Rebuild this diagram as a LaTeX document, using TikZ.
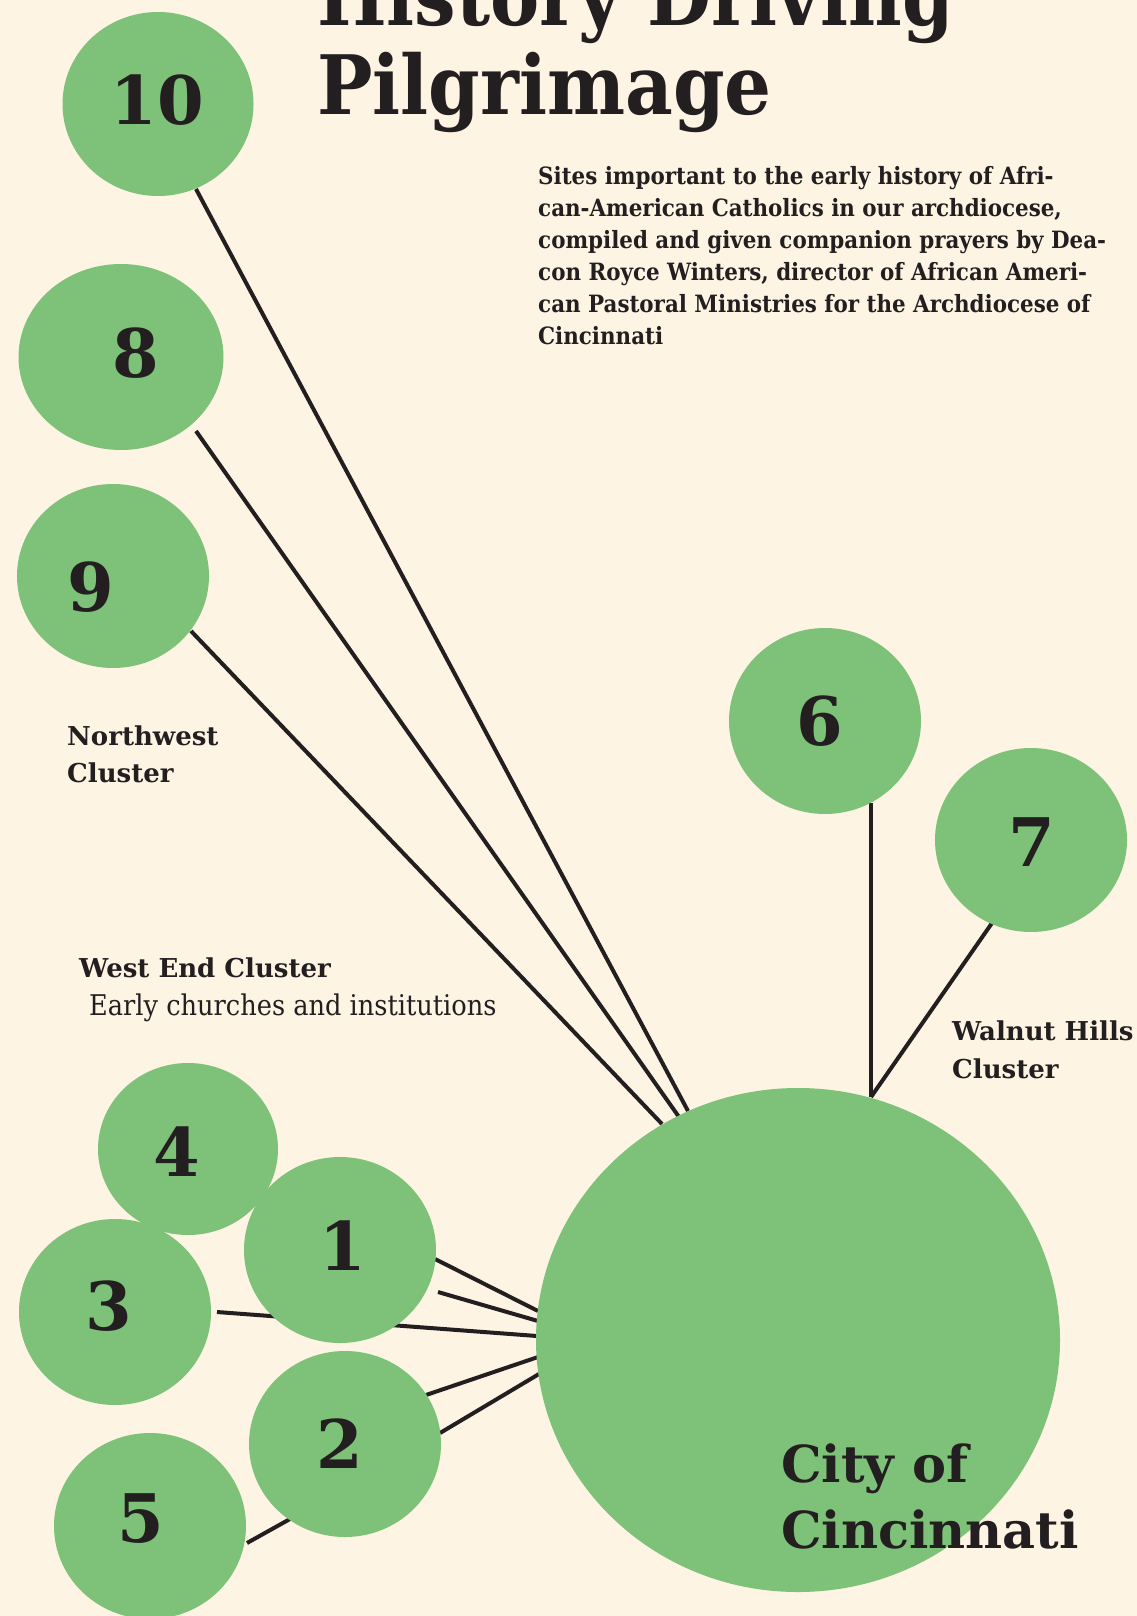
\documentclass[tikz,border=0pt]{standalone}
\usepackage{fontspec}
\setmainfont{DejaVu Serif}
\IfFontExistsTF{DejaVu Serif Condensed}{%
  \newfontfamily\condfont{DejaVu Serif Condensed}}{%
  \newfontfamily\condfont[FakeStretch=0.9]{DejaVu Serif}}
\usetikzlibrary{shapes.geometric}
\pgfdeclarelayer{paper}
\pgfdeclarelayer{lines}
\pgfsetlayers{paper,lines,main}
\definecolor{bgcol}{HTML}{FDF4E4}
\definecolor{leaf}{HTML}{7EC178}
\definecolor{ink}{HTML}{231F20}
\tikzset{
  site/.style n args={2}{ellipse, fill=leaf, inner sep=0pt, minimum width=#1, minimum height=#2},
  num/.style={inner sep=0pt, text=ink, font=\fontsize{67}{67}\selectfont\bfseries},
  link/.style={draw=ink, line width=4pt},
  cluster/.style={inner sep=0pt, anchor=base west, text=ink, font=\fontsize{26}{26}\selectfont\bfseries},
  subcl/.style={inner sep=0pt, anchor=base west, text=ink, font=\condfont\fontsize{28.5}{28.5}\selectfont},
  para/.style={inner sep=0pt, anchor=base west, text=ink, font=\condfont\fontsize{23.8}{23.8}\selectfont\bfseries},
  titl/.style={inner sep=0pt, anchor=base west, text=ink, font=\condfont\fontsize{82}{82}\selectfont\bfseries},
  city/.style={inner sep=0pt, anchor=base west, text=ink, font=\fontsize{51}{51}\selectfont\bfseries},
}
\begin{document}
\begin{tikzpicture}[x=1pt, y=-1pt]
\begin{pgfonlayer}{paper}
\fill[bgcol] (0,0) rectangle (1137,1616);
\end{pgfonlayer}
\useasboundingbox (0,0) rectangle (1137,1616);
% circles
\node[site={191pt}{184pt}] (c10) at (158,104) {};
\node[site={205pt}{186pt}] (c8) at (121,357) {};
\node[site={192pt}{184pt}] (c9) at (113,576) {};
\node[site={192pt}{186pt}] (c6) at (825,721) {};
\node[site={192pt}{184pt}] (c7) at (1031,840) {};
\node[site={180pt}{172pt}] (c4) at (188,1149) {};
\node[site={192pt}{186pt}] (c1) at (340,1250) {};
\node[site={192pt}{186pt}] (c3) at (115,1312) {};
\node[site={192pt}{186pt}] (c2) at (345,1444) {};
\node[site={192pt}{186pt}] (c5) at (150,1526) {};
\node[site={524pt}{504pt}] (cin) at (798,1340) {};
% numbers
\node[num] (n10) at (157,100) {10};
\node[num] (n8) at (136,353) {8};
\node[num] (n9) at (91,587) {9};
\node[num] (n6) at (820,721) {6};
\node[num] (n7) at (1032,842) {7};
\node[num] (n4) at (177,1152) {4};
\node[num] (n1) at (343,1246) {1};
\node[num] (n3) at (109,1306) {3};
\node[num] (n2) at (340,1444) {2};
\node[num] (n5) at (141,1519) {5};
% connector end points
\coordinate (a10) at (196,189);  \coordinate (b10) at (688,1111);
\coordinate (a8) at (196,431);   \coordinate (b8) at (679,1117);
\coordinate (a9) at (191,631);   \coordinate (b9) at (662,1124);
\coordinate (a6) at (871,803);   \coordinate (b6) at (871,1097);
\coordinate (a7) at (992,923);
\coordinate (a1) at (435,1259);  \coordinate (b1) at (538,1311);
\coordinate (a1b) at (438,1292); \coordinate (b1b) at (538,1321);
\coordinate (a3) at (217,1312);  \coordinate (b3) at (537,1336);
\coordinate (a2) at (426,1395);  \coordinate (b2) at (538,1357);
\coordinate (a2b) at (440,1433); \coordinate (b2b) at (539,1374);
\coordinate (a5) at (247,1543);  \coordinate (b5) at (290,1519);
\begin{pgfonlayer}{lines}
\draw[link] (a10) -- (b10);
\draw[link] (a8) -- (b8);
\draw[link] (a9) -- (b9);
\draw[link] (a6) -- (b6);
\draw[link] (a7) -- (b6);
\draw[link] (a1) -- (b1);
\draw[link] (a1b) -- (b1b);
\draw[link] (a3) -- (b3);
\draw[link] (a2) -- (b2);
\draw[link] (a2b) -- (b2b);
\draw[link] (a5) -- (b5);
\end{pgfonlayer}
% title
\node[titl] (t1) at (317,26) {History Driving};
\node[titl] (t2) at (317,115) {Pilgrimage};
% paragraph
\node[para] (p1) at (538,185) {Sites important to the early history of Afri-};
\node[para] (p2) at (538,216.8) {can-American Catholics in our archdiocese,};
\node[para] (p3) at (538,248.6) {compiled and given companion prayers by Dea-};
\node[para] (p4) at (538,280.4) {con Royce Winters, director of African Ameri-};
\node[para] (p5) at (538,312.2) {can Pastoral Ministries for the Archdiocese of};
\node[para] (p6) at (538,344) {Cincinnati};
% cluster labels
\node[cluster] (nw1) at (67,745) {Northwest};
\node[cluster] (nw2) at (67,782) {Cluster};
\node[cluster] (we1) at (79,977) {West End Cluster};
\node[subcl] (we2) at (89,1015) {Early churches and institutions};
\node[cluster] (wh1) at (952,1040) {Walnut Hills};
\node[cluster] (wh2) at (952,1078) {Cluster};
\node[city] (ct1) at (781,1482) {City of};
\node[city] (ct2) at (781,1548) {Cincinnati};
\end{tikzpicture}
\end{document}
